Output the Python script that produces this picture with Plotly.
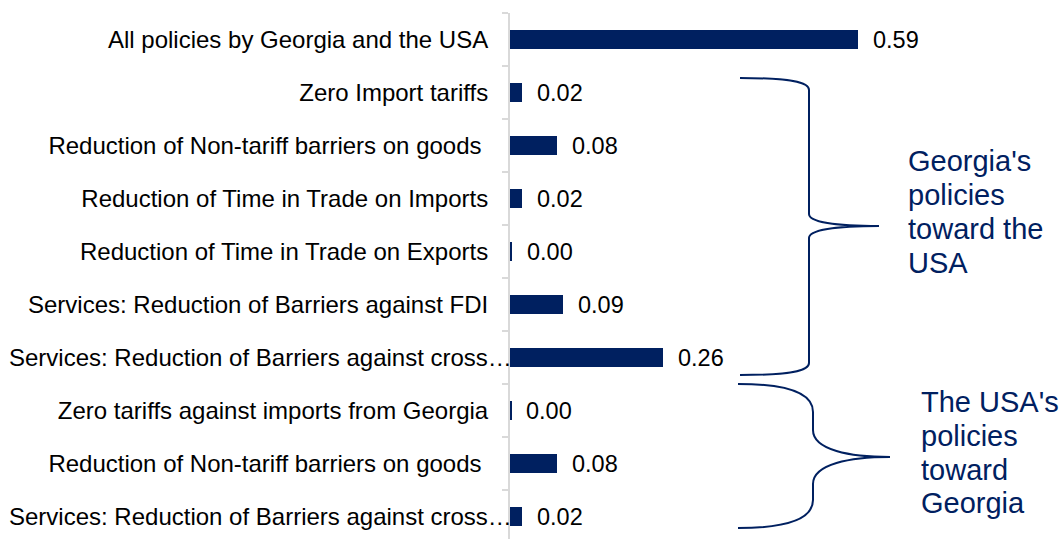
import plotly.graph_objects as go

# Policy scenarios, top to bottom
labels = [
    "All policies by Georgia and the USA",
    "Zero Import tariffs",
    "Reduction of Non-tariff barriers on goods\u00a0",
    "Reduction of Time in Trade on Imports",
    "Reduction of Time in Trade on Exports",
    "Services: Reduction of Barriers against FDI",
    "Services: Reduction of Barriers against cross…",
    "Zero tariffs against imports from Georgia",
    "Reduction of Non-tariff barriers on goods\u00a0",
    "Services: Reduction of Barriers against cross…",
]
values = [0.59, 0.02, 0.08, 0.02, 0.003, 0.09, 0.26, 0.002, 0.08, 0.02]
value_text = ["0.59", "0.02", "0.08", "0.02", "0.00", "0.09", "0.26", "0.00", "0.08", "0.02"]

group_labels = [
    ["Georgia's", "policies", "toward the", "USA"],
    ["The USA's", "policies", "toward", "Georgia"],
]

NAVY = "#002060"
FONT = "Liberation Sans, Arial, sans-serif"
LABEL_SIZE = 24
W, H = 1059, 539
ML, MT = 510, 13
PW, PH = W - ML, H - MT


def paper(x, y):
    """Pixel position on the page -> paper coordinates."""
    return (x - ML) / PW, 1 - (y - MT) / PH


def path(cmds):
    out = []
    for c in cmds:
        op, pts = c[0], c[1:]
        coords = []
        for i in range(0, len(pts), 2):
            px, py = paper(pts[i], pts[i + 1])
            coords.append(f"{px:.5f},{py:.5f}")
        out.append(op + " " + " ".join(coords))
    return " ".join(out)


rows = list(range(len(labels)))
long_rows = [i for i, t in enumerate(labels) if t.endswith("…")]
tick_text = ["" if i in long_rows else t for i, t in enumerate(labels)]

fig = go.Figure(
    go.Bar(
        x=values,
        y=rows,
        orientation="h",
        width=0.36,
        marker=dict(color=NAVY, line=dict(width=0)),
        hoverinfo="skip",
    )
)

annotations = []
# value labels just right of each bar
for i, (v, t) in enumerate(zip(values, value_text)):
    annotations.append(dict(
        x=v, y=i, xref="x", yref="y", text=t, showarrow=False,
        xanchor="left", yanchor="middle", xshift=13,
        font=dict(family=FONT, size=23.5, color="#000000"),
    ))

# truncated category names start at the left edge of the page
for i in long_rows:
    annotations.append(dict(
        x=paper(7, 0)[0], y=i, xref="paper", yref="y", text=labels[i],
        showarrow=False, xanchor="left", yanchor="middle",
        font=dict(family=FONT, size=LABEL_SIZE, color="#000000"),
    ))

# group captions beside the braces
caption_pos = [(906, [171, 205, 239, 273]), (919, [412, 446, 479.5, 513])]
for lines, (cx, baselines) in zip(group_labels, caption_pos):
    for line, by in zip(lines, baselines):
        px, py = paper(cx, by - 10)
        annotations.append(dict(
            x=px, y=py, xref="paper", yref="paper", text=line,
            showarrow=False, xanchor="left", yanchor="middle",
            font=dict(family=FONT, size=29, color=NAVY),
        ))

brace_georgia = path([
    ("M", 740, 78),
    ("C", 790, 78, 809, 82, 809, 90),
    ("L", 809, 214),
    ("C", 809, 222, 835, 226, 879, 226),
    ("C", 835, 226, 809, 230, 809, 238),
    ("L", 809, 363),
    ("C", 809, 371, 790, 375, 740, 375),
])
brace_usa = path([
    ("M", 738, 384),
    ("C", 790, 384, 813, 394, 813, 412),
    ("L", 813, 430),
    ("C", 813, 450, 850, 457, 890, 457),
    ("C", 850, 457, 813, 464, 813, 484),
    ("L", 813, 500),
    ("C", 813, 518, 790, 528, 738, 528),
])
shapes = [
    dict(type="path", path=p, xref="paper", yref="paper",
         line=dict(color=NAVY, width=2))
    for p in (brace_georgia, brace_usa)
]

fig.update_layout(
    width=W, height=H,
    margin=dict(l=ML, r=0, t=MT, b=0, pad=0),
    plot_bgcolor="white", paper_bgcolor="white",
    showlegend=False,
    bargap=0,
    xaxis=dict(range=[0, PW / 590], visible=False, fixedrange=True),
    yaxis=dict(
        range=[-0.5 + PH / 53, -0.5],
        tickmode="array", tickvals=rows, ticktext=tick_text,
        ticks="", showgrid=False, zeroline=False,
        showline=True, linecolor="#d9d9d9", linewidth=2,
        ticklabelstandoff=15,
        tickfont=dict(family=FONT, size=LABEL_SIZE, color="#000000"),
        minor=dict(
            tickmode="array",
            tickvals=[i - 0.5 for i in range(len(labels) + 1)],
            ticks="outside", ticklen=6, tickcolor="#d9d9d9", tickwidth=2,
            showgrid=False,
        ),
        fixedrange=True,
    ),
    annotations=annotations,
    shapes=shapes,
)

fig.write_html("out.html")
